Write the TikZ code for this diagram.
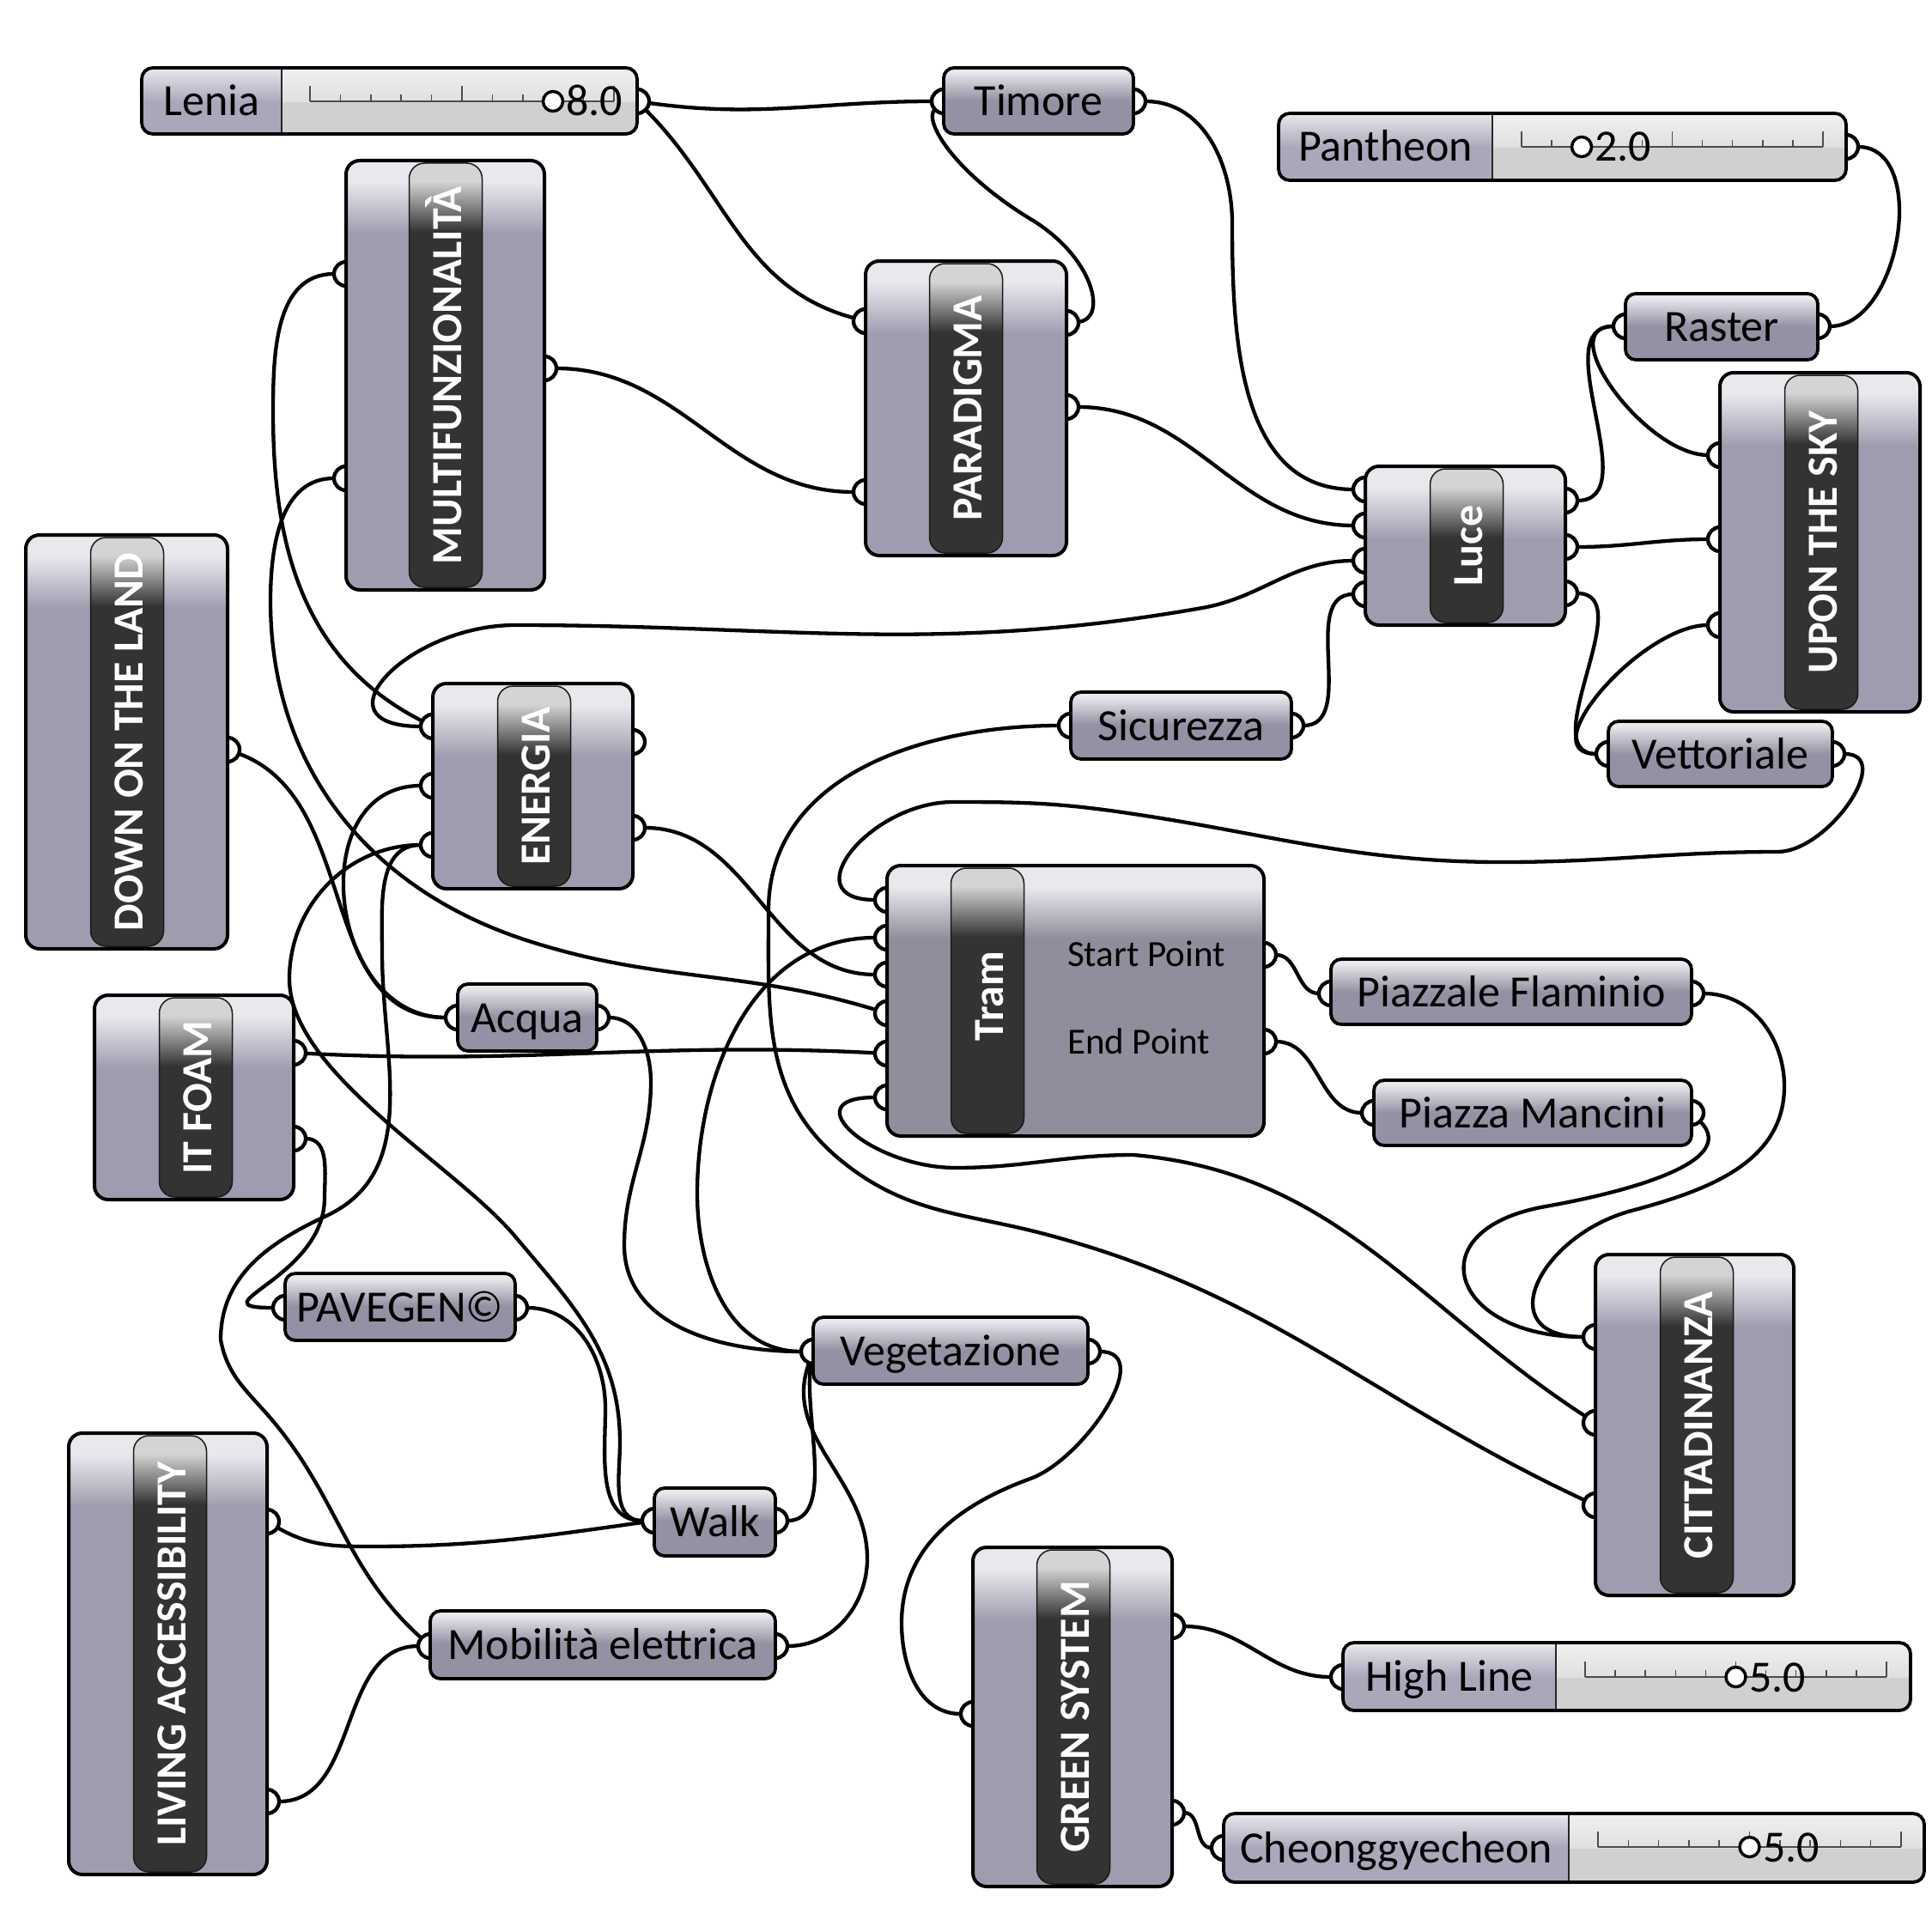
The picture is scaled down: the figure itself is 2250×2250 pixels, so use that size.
\documentclass[tikz,border=0pt]{standalone}
\usepackage{fontspec}
\setmainfont{Carlito}
\usetikzlibrary{calc}
\pgfdeclarelayer{bg}
\pgfdeclarelayer{wires}
\pgfdeclarelayer{ports}
\pgfsetlayers{bg,wires,ports,main}
\definecolor{compTop}{HTML}{E8E8ED}
\definecolor{compBase}{HTML}{9E9DAF}
\definecolor{tramBase}{HTML}{8E8E9C}
\definecolor{parBase}{HTML}{9392A4}
\definecolor{labLav}{HTML}{A9A8BB}
\definecolor{slGrey}{HTML}{D0D0D0}
\definecolor{slTop}{HTML}{F0F0F0}
\definecolor{bandDark}{HTML}{333333}
\definecolor{bandTop}{HTML}{D4D4D4}
\newcommand{\labfont}{\fontsize{52pt}{60pt}\selectfont}
\newcommand{\bandfont}{\fontsize{50pt}{60pt}\selectfont\bfseries}
\newcommand{\smallfont}{\fontsize{43pt}{50pt}\selectfont}
\newcommand{\sliderscale}[3]{%
  \draw[line width=2pt, black!70] (#1,#3) -- (#2,#3);
  \foreach \i in {0,...,10}{%
    \pgfmathsetmacro{\tx}{#1+\i*(#2-#1)/10}%
    \pgfmathsetmacro{\th}{(\i==0 || \i==5 || \i==10) ? 18 : 8}%
    \draw[line width=1.5pt, black!70] (\tx,#3) -- (\tx,#3+\th);
  }%
}
\tikzset{
  comp/.style={draw=black, line width=4pt, rounded corners=16pt, fill=#1,
    path picture={
      \fill[compTop, sharp corners] (path picture bounding box.north west) rectangle ([yshift=-26pt]path picture bounding box.north east);
      \shade[top color=compTop, bottom color=#1, sharp corners] ([yshift=-25pt]path picture bounding box.north west) rectangle ([yshift=-85pt]path picture bounding box.north east);
    }},
  comp/.default=compBase,
  param/.style={draw=black, line width=3.8pt, rounded corners=12pt, fill=#1,
    path picture={
      \fill[compTop, sharp corners] (path picture bounding box.north west) rectangle ([yshift=-6pt]path picture bounding box.north east);
      \shade[top color=compTop, bottom color=#1, sharp corners] ([yshift=-5pt]path picture bounding box.north west) rectangle ([yshift=-38pt]path picture bounding box.north east);
    }},
  param/.default=parBase,
  slider/.style={draw=black, line width=3.8pt, rounded corners=13pt, fill=slGrey,
    path picture={
      \shade[top color=slTop, bottom color=slGrey, sharp corners] (path picture bounding box.north west) rectangle ([yshift=-40pt]path picture bounding box.north east);
      \fill[labLav, sharp corners] (path picture bounding box.north west) rectangle ([xshift=#1]path picture bounding box.south west);
      \shade[top color=compTop, bottom color=labLav, sharp corners] (path picture bounding box.north west) rectangle ([xshift=#1,yshift=-40pt]path picture bounding box.north west);
      \draw[line width=1.5pt, black!85, sharp corners] ([xshift=#1]path picture bounding box.north west) -- ([xshift=#1]path picture bounding box.south west);
    }},
  band/.style={draw=black!90, line width=1.5pt, rounded corners=18pt, fill=bandDark, minimum width=85pt,
    path picture={
      \fill[bandTop, sharp corners] (path picture bounding box.north west) rectangle ([yshift=-22pt]path picture bounding box.north east);
      \shade[top color=bandTop, bottom color=bandDark, sharp corners] ([yshift=-21pt]path picture bounding box.north west) rectangle ([yshift=-80pt]path picture bounding box.north east);
    }},
  btext/.style={text=white, font=\bandfont, rotate=90, anchor=base},
  ltext/.style={text=black, font=\labfont, anchor=base},
  vtext/.style={text=black, font=\labfont, anchor=base west},
  stext/.style={text=black, font=\smallfont, anchor=base west},
  port/.style={circle, draw=black, fill=white, line width=4.3pt, minimum size=28pt},
  knob/.style={circle, draw=black, fill=white, line width=3.5pt, minimum size=23pt},
  wire/.style={draw=black, line width=4.3pt}
}
\begin{document}
\begin{tikzpicture}[x=1pt,y=1pt, every node/.style={inner sep=0pt, outer sep=0pt}]
\begin{pgfonlayer}{bg}
\fill[white] (0,0) rectangle (2250,-2250);
\end{pgfonlayer}
\useasboundingbox (0,0) rectangle (2250,-2250);

% ---------- sliders ----------
\node[slider=163pt, minimum width=577pt, minimum height=77pt] (lenia) at (453.5,-117.5) {};
\node[ltext] (lenia-l) at (246.5,-134.5) {Lenia};
\sliderscale{361}{715}{-118}
\node[knob] (lenia-k) at (644,-118) {};
\node[vtext] (lenia-v) at (659,-135) {8.0};

\node[slider=249pt, minimum width=661pt, minimum height=78pt] (pan) at (1819.5,-171) {};
\node[ltext] (pan-l) at (1613.5,-188) {Pantheon};
\sliderscale{1772}{2123}{-171}
\node[knob] (pan-k) at (1842,-171) {};
\node[vtext] (pan-v) at (1857,-188) {2.0};

\node[slider=248pt, minimum width=661pt, minimum height=79pt] (hl) at (1894.5,-1952.5) {};
\node[ltext] (hl-l) at (1688,-1969.5) {High Line};
\sliderscale{1846}{2197}{-1953}
\node[knob] (hl-k) at (2021.5,-1953) {};
\node[vtext] (hl-v) at (2037,-1970) {5.0};

\node[slider=402pt, minimum width=816pt, minimum height=80pt] (ch) at (1833,-2152) {};
\node[ltext] (ch-l) at (1626,-2169) {Cheonggyecheon};
\sliderscale{1861}{2214}{-2151}
\node[knob] (ch-k) at (2037.5,-2151) {};
\node[vtext] (ch-v) at (2053,-2168) {5.0};

% ---------- components ----------
\node[comp, minimum width=231pt, minimum height=500pt] (multi) at (518.5,-437) {};
\node[band, minimum height=494pt] (multi-b) at (519,-437) {};
\node[btext] (multi-t) at (537,-437) {MULTIFUNZIONALITÀ};

\node[comp, minimum width=234pt, minimum height=343pt] (para) at (1125,-475.5) {};
\node[band, minimum height=337pt] (para-b) at (1125,-475.5) {};
\node[btext] (para-t) at (1143,-475.5) {PARADIGMA};

\node[comp, minimum width=233pt, minimum height=395pt] (upon) at (2119.5,-631.5) {};
\node[band, minimum height=389pt] (upon-b) at (2121,-631.5) {};
\node[btext] (upon-t) at (2139,-631.5) {UPON THE SKY};

\node[comp, minimum width=233pt, minimum height=185pt] (luce) at (1706.5,-635.5) {};
\node[band, minimum height=179pt] (luce-b) at (1708,-635.5) {};
\node[btext] (luce-t) at (1726,-635.5) {Luce};

\node[comp, minimum width=235pt, minimum height=482pt] (down) at (147.5,-864) {};
\node[band, minimum height=476pt] (down-b) at (148,-864) {};
\node[btext] (down-t) at (166,-864) {DOWN ON THE LAND};

\node[comp, minimum width=233pt, minimum height=239pt] (en) at (620.5,-915.5) {};
\node[band, minimum height=233pt] (en-b) at (622,-915.5) {};
\node[btext] (en-t) at (640,-915.5) {ENERGIA};

\node[comp=tramBase, minimum width=439pt, minimum height=315pt] (tram) at (1252.5,-1165.5) {};
\node[band, minimum height=309pt] (tram-b) at (1150,-1165.5) {};
\node[btext] (tram-t) at (1168,-1160) {Tram};
\node[stext] (tram-s) at (1243,-1125) {Start Point};
\node[stext] (tram-e) at (1243,-1227) {End Point};

\node[comp, minimum width=232pt, minimum height=238pt] (itf) at (226,-1278) {};
\node[band, minimum height=232pt] (itf-b) at (228,-1278) {};
\node[btext] (itf-t) at (246,-1278) {IT FOAM};

\node[comp, minimum width=231pt, minimum height=397pt] (cit) at (1973.5,-1659.5) {};
\node[band, minimum height=391pt] (cit-b) at (1976,-1659.5) {};
\node[btext] (cit-t) at (1994,-1659.5) {CITTADINANZA};

\node[comp, minimum width=231pt, minimum height=514pt] (liv) at (195.5,-1926) {};
\node[band, minimum height=508pt] (liv-b) at (198,-1926) {};
\node[btext] (liv-t) at (216,-1926) {LIVING ACCESSIBILITY};

\node[comp, minimum width=232pt, minimum height=395pt] (green) at (1249,-1999.5) {};
\node[band, minimum height=389pt] (green-b) at (1250,-1999.5) {};
\node[btext] (green-t) at (1268,-1999.5) {GREEN SYSTEM};

% ---------- parameters ----------
\node[param, minimum width=221pt, minimum height=77pt] (tim) at (1209.5,-117.5) {};
\node[ltext] (tim-t) at (1209.5,-134.5) {Timore};
\node[param, minimum width=224pt, minimum height=77pt] (ras) at (2005,-380.5) {};
\node[ltext] (ras-t) at (2005,-397.5) {Raster};
\node[param, minimum width=257pt, minimum height=78pt] (sic) at (1375.5,-845) {};
\node[ltext] (sic-t) at (1375.5,-862) {Sicurezza};
\node[param, minimum width=261pt, minimum height=76pt] (vet) at (2003.5,-878) {};
\node[ltext] (vet-t) at (2003.5,-895) {Vettoriale};
\node[param, minimum width=420pt, minimum height=76pt] (pf) at (1760,-1155) {};
\node[ltext] (pf-t) at (1760,-1172) {Piazzale Flaminio};
\node[param, minimum width=370pt, minimum height=76pt] (pm) at (1785,-1296) {};
\node[ltext] (pm-t) at (1785,-1313) {Piazza Mancini};
\node[param, minimum width=162pt, minimum height=78pt] (acq) at (614,-1185) {};
\node[ltext] (acq-t) at (614,-1202) {Acqua};
\node[param, minimum width=268pt, minimum height=78pt] (pav) at (466,-1522) {};
\node[ltext] (pav-t) at (466,-1539) {PAVEGEN©};
\node[param, minimum width=320pt, minimum height=78pt] (veg) at (1107,-1573) {};
\node[ltext] (veg-t) at (1107,-1590) {Vegetazione};
\node[param, minimum width=141pt, minimum height=79pt] (walk) at (832.5,-1772.5) {};
\node[ltext] (walk-t) at (832.5,-1789.5) {Walk};
\node[param, minimum width=402pt, minimum height=79pt] (mob) at (702,-1915.5) {};
\node[ltext] (mob-t) at (702,-1932.5) {Mobilità elettrica};

% ---------- ports ----------
\begin{pgfonlayer}{ports}
\node[port] (len-o) at (742,-118) {};
\node[port] (tim-i) at (1099,-118) {};
\node[port] (tim-o) at (1320,-118) {};
\node[port] (pan-o) at (2150,-171) {};
\node[port] (multi-i1) at (403,-319) {};
\node[port] (multi-i2) at (403,-557) {};
\node[port] (multi-o) at (634,-429) {};
\node[port] (para-i1) at (1008,-374) {};
\node[port] (para-i2) at (1008,-573) {};
\node[port] (para-o1) at (1242,-376) {};
\node[port] (para-o2) at (1242,-474) {};
\node[port] (ras-i) at (1893,-380) {};
\node[port] (ras-o) at (2117,-380) {};
\node[port] (upon-i1) at (2003,-530) {};
\node[port] (upon-i2) at (2003,-628) {};
\node[port] (upon-i3) at (2003,-728) {};
\node[port] (luce-i1) at (1590,-570) {};
\node[port] (luce-i2) at (1590,-612) {};
\node[port] (luce-i3) at (1590,-653) {};
\node[port] (luce-i4) at (1590,-692) {};
\node[port] (luce-o1) at (1823,-583) {};
\node[port] (luce-o2) at (1823,-637) {};
\node[port] (luce-o3) at (1823,-691) {};
\node[port] (down-o) at (265,-873) {};
\node[port] (en-i1) at (504,-846) {};
\node[port] (en-i2) at (504,-915) {};
\node[port] (en-i3) at (504,-984) {};
\node[port] (en-o1) at (737,-864) {};
\node[port] (en-o2) at (737,-964) {};
\node[port] (sic-i) at (1247,-845) {};
\node[port] (sic-o) at (1504,-845) {};
\node[port] (vet-i) at (1873,-878) {};
\node[port] (vet-o) at (2134,-878) {};
\node[port] (tram-i1) at (1033,-1048) {};
\node[port] (tram-i2) at (1033,-1092) {};
\node[port] (tram-i3) at (1033,-1135) {};
\node[port] (tram-i4) at (1033,-1180) {};
\node[port] (tram-i5) at (1033,-1227) {};
\node[port] (tram-i6) at (1033,-1278) {};
\node[port] (tram-o1) at (1472,-1112) {};
\node[port] (tram-o2) at (1472,-1213) {};
\node[port] (pf-i) at (1550,-1157) {};
\node[port] (pf-o) at (1970,-1157) {};
\node[port] (pm-i) at (1600,-1296) {};
\node[port] (pm-o) at (1970,-1296) {};
\node[port] (acq-i) at (533,-1185) {};
\node[port] (acq-o) at (695,-1185) {};
\node[port] (itf-o1) at (342,-1226) {};
\node[port] (itf-o2) at (342,-1326) {};
\node[port] (pav-i) at (332,-1523) {};
\node[port] (pav-o) at (600,-1523) {};
\node[port] (veg-i) at (947,-1574) {};
\node[port] (veg-o) at (1267,-1574) {};
\node[port] (cit-i1) at (1858,-1557) {};
\node[port] (cit-i2) at (1858,-1657) {};
\node[port] (cit-i3) at (1858,-1753) {};
\node[port] (liv-o1) at (311,-1772) {};
\node[port] (liv-o2) at (311,-2098) {};
\node[port] (walk-i) at (762,-1771) {};
\node[port] (walk-o) at (903,-1771) {};
\node[port] (mob-i) at (501,-1917) {};
\node[port] (mob-o) at (903,-1917) {};
\node[port] (green-i) at (1133,-1996) {};
\node[port] (green-o1) at (1365,-1894) {};
\node[port] (green-o2) at (1365,-2111) {};
\node[port] (hl-i) at (1564,-1953) {};
\node[port] (ch-i) at (1425,-2152) {};
\end{pgfonlayer}

% ---------- wires ----------
\begin{pgfonlayer}{wires}
\draw[wire] (len-o) to[out=-8,in=180] (tim-i);
\draw[wire] (len-o) to[out=-45,in=165] (para-i1);
\draw[wire] (para-o1) .. controls (1290,-372) and (1275,-300) .. (1200,-255) .. controls (1110,-200) and (1075,-140) .. (tim-i);
\draw[wire] (tim-o) to[out=0,in=90] (1435,-260) to[out=-90,in=180] (luce-i1);
\draw[wire] (para-o2) to[out=0,in=180] (luce-i2);
\draw[wire] (multi-o) to[out=0,in=180] (para-i2);
\draw[wire] (multi-i1) to[out=180,in=90] (318,-480) to[out=-90,in=153] (en-i1);
\draw[wire] (multi-i2) to[out=180,in=90] (315,-700) to[out=-90,in=162] (613,-1095) to[out=-18,in=163] (tram-i4);
\draw[wire] (luce-i3) to[out=180,in=10] (1400,-708) to[out=190,in=0] (600,-728) to[out=180,in=180,looseness=2] (en-i1);
\draw[wire] (luce-i4) to[out=180,in=0] (sic-o);
\draw[wire] (pan-o) to[out=0,in=0] (ras-o);
\draw[wire] (luce-o1) to[out=0,in=180] (ras-i);
\draw[wire] (ras-i) to[out=180,in=180] (upon-i1);
\draw[wire] (luce-o2) to[out=0,in=180] (upon-i2);
\draw[wire] (luce-o3) to[out=0,in=180] (vet-i);
\draw[wire] (upon-i3) to[out=180,in=180] (vet-i);
\draw[wire] (vet-o) to[out=0,in=0,looseness=1.1] (2070,-992) to[out=180,in=0] (1750,-1004) to[out=180,in=-8] (1300,-945) to[out=172,in=0] (1110,-934) to[out=180,in=180,looseness=1.7] (tram-i1);
\draw[wire] (sic-i) to[out=180,in=90] (895,-1060) to[out=-90,in=141] (980,-1352) to[out=-39,in=165] (1220,-1438) to[out=-15,in=155] (cit-i3);
\draw[wire] (tram-i6) to[out=180,in=180,looseness=2] (1113,-1360) to[out=0,in=180] (1320,-1345) to[out=-5,in=147] (cit-i2);
\draw[wire] (pf-o) to[out=0,in=90] (2078,-1265) to[out=-90,in=15] (1900,-1410) to[out=195,in=180,looseness=1.8] (cit-i1);
\draw[wire] (pm-o) to[out=-45,in=10,looseness=0.9] (1800,-1405) to[out=190,in=180,looseness=2.5] (cit-i1);
\draw[wire] (tram-o1) to[out=0,in=180] (pf-i);
\draw[wire] (tram-o2) to[out=0,in=180] (pm-i);
\draw[wire] (down-o) to[out=-20,in=180] (acq-i);
\draw[wire] (en-i2) to[out=180,in=180,looseness=1.3] (acq-i);
\draw[wire] (en-i3) to[out=180,in=90] (337,-1140) to[out=-90,in=130,looseness=0.7] (600,-1440) to[out=-50,in=90] (722,-1680) to[out=-90,in=180] (walk-i);
\draw[wire] (en-i3) to[out=180,in=90] (445,-1110) to[out=-90,in=25] (380,-1416) to[out=205,in=90] (257,-1560) to[out=-80,in=130] (318,-1655) to[out=-50,in=138] (mob-i);
\draw[wire] (en-o2) to[out=0,in=180] (tram-i3);
\draw[wire] (itf-o1) to[out=-3,in=177] (tram-i5);
\draw[wire] (itf-o2) to[out=0,in=90] (378,-1395) to[out=-90,in=180,looseness=1.7] (pav-i);
\draw[wire] (pav-o) to[out=0,in=90] (705,-1640) to[out=-90,in=180] (walk-i);
\draw[wire] (liv-o1) to[out=-30,in=180] (430,-1801) to[out=0,in=188] (walk-i);
\draw[wire] (liv-o2) to[out=0,in=180] (mob-i);
\draw[wire] (walk-o) to[out=0,in=-100,looseness=0.8] (veg-i);
\draw[wire] (mob-o) to[out=0,in=-90] (1010,-1815) to[out=90,in=-110] (veg-i);
\draw[wire] (acq-o) to[out=0,in=90] (758,-1260) to[out=-90,in=90] (727,-1450) to[out=-90,in=180] (veg-i);
\draw[wire] (tram-i2) to[out=180,in=90] (812,-1390) to[out=-90,in=180] (veg-i);
\draw[wire] (veg-o) to[out=0,in=20] (1200,-1722) to[out=200,in=90] (1050,-1890) to[out=-90,in=180] (green-i);
\draw[wire] (green-o1) to[out=0,in=180] (hl-i);
\draw[wire] (green-o2) to[out=0,in=180] (ch-i);
\end{pgfonlayer}
\end{tikzpicture}
\end{document}
